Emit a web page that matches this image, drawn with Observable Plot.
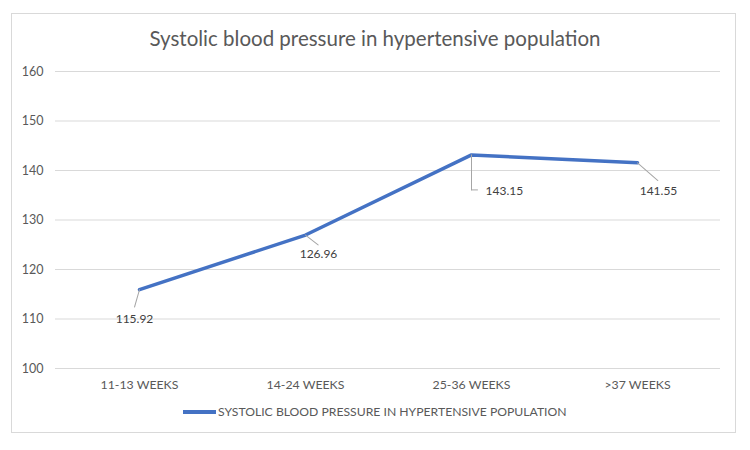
<!DOCTYPE html>
<html>
<head>
<meta charset="utf-8">
<script src="https://cdn.jsdelivr.net/npm/d3@7"></script>
<script src="https://cdn.jsdelivr.net/npm/@observablehq/plot@0.6"></script>
<style>
  html, body { margin: 0; padding: 0; background: #fff; }
  #wrap { position: relative; width: 750px; height: 450px; font-family: Lato, "Open Sans", sans-serif; }
  #border { position: absolute; left: 11px; top: 13px; width: 725px; height: 420px; border: 1px solid #d9d9d9; box-sizing: border-box; }
  #title { position: absolute; left: 0; width: 750px; top: 26px; text-align: center; font-size: 20.5px; color: #595959; }
  #legend { position: absolute; top: 404px; left: 183px; font-size: 12.2px; color: #595959; display: flex; align-items: center; white-space: nowrap; }
  #legend .sw { width: 33px; height: 4px; background: #4472C4; margin-right: 2px; }
  #chart { position: absolute; left: 0; top: 0; }
</style>
</head>
<body>
<div id="wrap">
  <div id="border"></div>
  <div id="chart"></div>
  <div id="title">Systolic blood pressure in hypertensive population</div>
  <div id="legend"><span class="sw"></span><span>SYSTOLIC BLOOD PRESSURE IN HYPERTENSIVE POPULATION</span></div>
</div>
<script>
const categories = ["11-13 WEEKS", "14-24 WEEKS", "25-36 WEEKS", ">37 WEEKS"];
const values = [115.92, 126.96, 143.15, 141.55];
const yTicks = [100, 110, 120, 130, 140, 150, 160];

const data = categories.map((c, i) => ({category: c, value: values[i]}));

// label placement (pixels), kept separate from the data
const labelOffsets = [
  {dx: -5, dy: 29, anchor: "middle"},
  {dx: 13, dy: 19, anchor: "middle"},
  {dx: 14, dy: 36, anchor: "start"},
  {dx: 21, dy: 28, anchor: "middle"}
];
const leaders = [
  {rotate: 196, length: 18},
  {rotate: 128, length: 16},
  {rotate: 180, length: 35},
  {rotate: 131, length: 27}
];

const marks = [
  Plot.gridY(yTicks, {stroke: "#d9d9d9", strokeOpacity: 1, strokeWidth: 1}),
  Plot.axisY({ticks: yTicks, tickSize: 0, tickPadding: 12, fontSize: 12.5, fill: "#595959", label: null}),
  Plot.axisX({tickSize: 0, tickPadding: 12, fontSize: 12.3, fill: "#595959", label: null}),
  Plot.line(data, {x: "category", y: "value", stroke: "#4472C4", strokeWidth: 3.5, strokeLinejoin: "round"})
];

data.forEach((d, i) => {
  const L = leaders[i];
  marks.push(Plot.vector([d], {x: "category", y: "value", rotate: L.rotate, length: L.length, anchor: "start", shape: {draw(ctx, l) { ctx.moveTo(0, 0); ctx.lineTo(0, -l); }}, stroke: "#a6a6a6", strokeWidth: 1}));
  if (i === 2) {
    marks.push(Plot.vector([d], {x: "category", y: "value", dy: L.length, rotate: 90, length: 6, anchor: "start", shape: {draw(ctx, l) { ctx.moveTo(0, 0); ctx.lineTo(0, -l); }}, stroke: "#a6a6a6", strokeWidth: 1}));
  }
  const o = labelOffsets[i];
  marks.push(Plot.text([d], {x: "category", y: "value", text: v => v.value.toFixed(2), dx: o.dx, dy: o.dy, textAnchor: o.anchor, fontSize: 12, fill: "#404040"}));
});

const chart = Plot.plot({
  width: 750,
  height: 450,
  marginTop: 71,
  marginBottom: 82,
  marginLeft: 55,
  marginRight: 30,
  style: {fontFamily: "Lato, 'Open Sans', sans-serif", background: "transparent"},
  x: {type: "point", domain: categories, padding: 0.5},
  y: {domain: [100, 160]},
  marks
});
document.getElementById("chart").appendChild(chart);
</script>
</body>
</html>
